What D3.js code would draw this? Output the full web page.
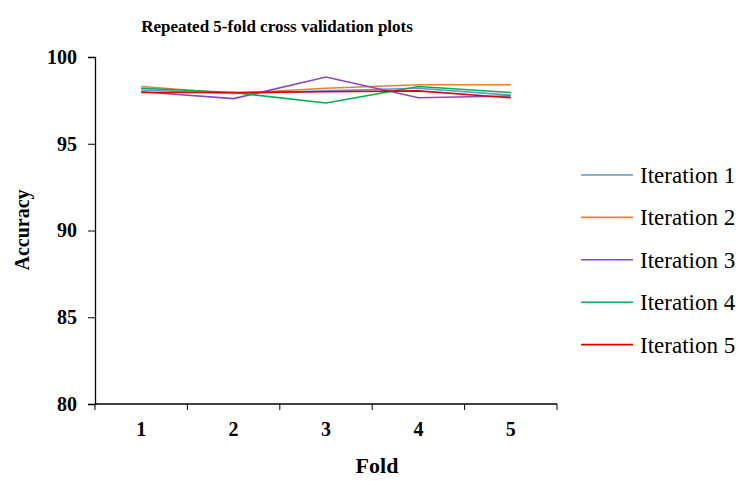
<!DOCTYPE html>
<html>
<head>
<meta charset="utf-8">
<script src="https://cdn.jsdelivr.net/npm/d3@7"></script>
<style>
  body { margin: 0; background: #fff; }
  svg text { font-family: "Liberation Serif", "Times New Roman", serif; fill: #000; }
</style>
</head>
<body>
<svg id="chart"></svg>
<script>
const folds = ["1", "2", "3", "4", "5"];
const yTicks = [80, 85, 90, 95, 100];
const seriesNames = ["Iteration 1", "Iteration 2", "Iteration 3", "Iteration 4", "Iteration 5"];
const iter1 = [98.1, 97.9, 98.05, 98.2, 97.8];
const iter2 = [98.3, 97.9, 98.2, 98.4, 98.4];
const iter3 = [98.0, 97.6, 98.85, 97.65, 97.75];
const iter4 = [98.2, 97.95, 97.35, 98.3, 97.95];
const iter5 = [97.95, 97.95, 98.0, 98.05, 97.65];
const colors = ["#5b9bd5", "#ed7d31", "#8748c4", "#00b050", "#e00000"];

const svg_size = {width: 747, height: 481};
const margin = {top: 57, right: 190, bottom: 77, left: 95};
const plot_width = 557 - margin.left;
const plot_height = svg_size.height - margin.top - margin.bottom;

const svg = d3.select("#chart")
    .attr("width", svg_size.width)
    .attr("height", svg_size.height);

const plot = svg.append("g")
    .attr("transform", `translate(${margin.left},${margin.top})`);

const x = d3.scaleBand().domain(folds).range([0, plot_width]);
const y = d3.scaleLinear().domain([80, 100]).range([plot_height, 0]);

// x axis, ticks on the band edges
const xAxis = plot.append("g").attr("transform", `translate(0,${plot_height})`);
xAxis.append("line").attr("x1", 0).attr("x2", plot_width).attr("stroke", "#000").attr("stroke-width", 1.3);
xAxis.selectAll(".edge")
    .data(d3.range(folds.length + 1))
    .enter().append("line")
    .attr("x1", i => i * x.step()).attr("x2", i => i * x.step())
    .attr("y1", 0).attr("y2", 6)
    .attr("stroke", "#000");
xAxis.selectAll(".lbl")
    .data(folds)
    .enter().append("text")
    .attr("x", d => x(d) + x.bandwidth() / 2)
    .attr("y", 32)
    .attr("text-anchor", "middle")
    .attr("font-size", 20).attr("font-weight", "bold")
    .text(d => d);

const yAxis = plot.append("g")
    .call(d3.axisLeft(y).tickValues(yTicks).tickSize(7).tickPadding(11));
yAxis.select(".domain").attr("stroke-width", 1.3);
yAxis.selectAll("text")
    .style("font-family", "'Liberation Serif', serif")
    .attr("font-size", 20).attr("font-weight", "bold").attr("fill", "#000");

const allSeries = [iter1, iter2, iter3, iter4, iter5];
const line = d3.line()
    .x((d, i) => x(folds[i]) + x.bandwidth() / 2)
    .y(d => y(d));

plot.selectAll(".series")
    .data(allSeries)
    .enter().append("path")
    .attr("fill", "none")
    .attr("stroke", (d, i) => colors[i])
    .attr("stroke-width", 1.6)
    .attr("d", line);

// title and axis labels
svg.append("text")
    .attr("x", 277).attr("y", 32)
    .attr("text-anchor", "middle")
    .attr("font-size", 17).attr("font-weight", "bold")
    .text("Repeated 5-fold cross validation plots");

svg.append("text")
    .attr("transform", "rotate(-90)")
    .attr("x", -230).attr("y", 29)
    .attr("text-anchor", "middle")
    .attr("font-size", 20).attr("font-weight", "bold")
    .text("Accuracy");

svg.append("text")
    .attr("x", 377).attr("y", 473)
    .attr("text-anchor", "middle")
    .attr("font-size", 22).attr("font-weight", "bold")
    .text("Fold");

// legend
const legend = svg.append("g").attr("transform", "translate(581,175)");
const item = legend.selectAll(".item")
    .data(seriesNames)
    .enter().append("g")
    .attr("transform", (d, i) => `translate(0,${i * 42.4})`);
item.append("line")
    .attr("x1", 0).attr("x2", 52)
    .attr("stroke", (d, i) => colors[i])
    .attr("stroke-width", 1.6);
item.append("text")
    .attr("x", 59).attr("y", 8)
    .attr("font-size", 23)
    .text(d => d);
</script>
</body>
</html>
